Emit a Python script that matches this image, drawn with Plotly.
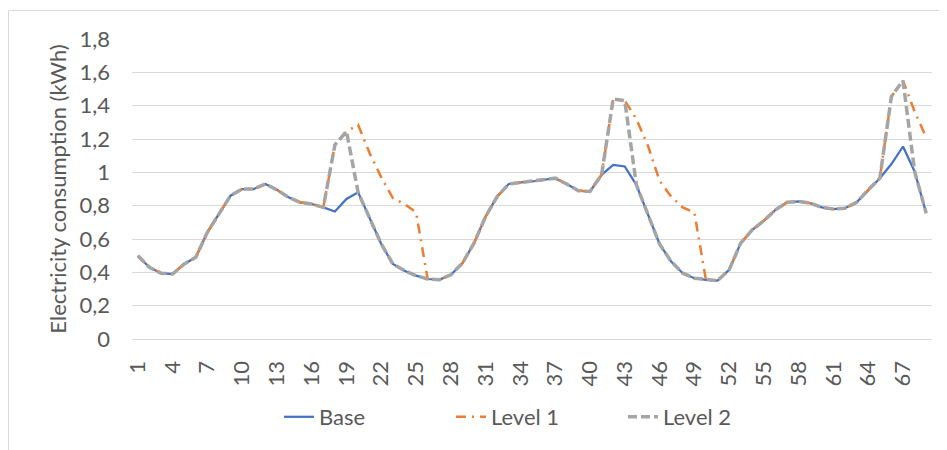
import plotly.graph_objects as go

hours = list(range(1, 70))

base = [0.50, 0.43, 0.395, 0.39, 0.45, 0.49, 0.64, 0.75, 0.86, 0.90,
        0.90, 0.93, 0.895, 0.85, 0.82, 0.81, 0.79, 0.765, 0.84, 0.88,
        0.73, 0.57, 0.45, 0.41, 0.38, 0.36, 0.355, 0.385, 0.455, 0.575,
        0.735, 0.855, 0.93, 0.94, 0.945, 0.955, 0.965, 0.93, 0.89, 0.885,
        0.985, 1.045, 1.035, 0.925, 0.75, 0.57, 0.465, 0.395, 0.365, 0.355,
        0.35, 0.415, 0.575, 0.655, 0.71, 0.775, 0.82, 0.825, 0.815, 0.79,
        0.78, 0.785, 0.82, 0.895, 0.965, 1.05, 1.155, 1.005, 0.755]

level1 = [0.50, 0.43, 0.395, 0.39, 0.45, 0.49, 0.64, 0.75, 0.86, 0.90,
          0.90, 0.93, 0.895, 0.85, 0.82, 0.81, 0.79, 1.165, 1.245, 1.285,
          1.115, 0.97, 0.845, 0.81, 0.76, 0.36, 0.355, 0.385, 0.455, 0.575,
          0.735, 0.855, 0.93, 0.94, 0.945, 0.955, 0.965, 0.93, 0.89, 0.885,
          0.985, 1.44, 1.43, 1.32, 1.16, 0.95, 0.855, 0.79, 0.76, 0.355,
          0.35, 0.415, 0.575, 0.655, 0.71, 0.775, 0.82, 0.825, 0.815, 0.79,
          0.78, 0.785, 0.82, 0.895, 0.965, 1.455, 1.55, 1.365, 1.21]

level2 = [0.50, 0.43, 0.395, 0.39, 0.45, 0.49, 0.64, 0.75, 0.86, 0.90,
          0.90, 0.93, 0.895, 0.85, 0.82, 0.81, 0.79, 1.165, 1.245, 0.88,
          0.73, 0.57, 0.45, 0.41, 0.38, 0.36, 0.355, 0.385, 0.455, 0.575,
          0.735, 0.855, 0.93, 0.94, 0.945, 0.955, 0.965, 0.93, 0.89, 0.885,
          0.985, 1.44, 1.43, 0.925, 0.75, 0.57, 0.465, 0.395, 0.365, 0.355,
          0.35, 0.415, 0.575, 0.655, 0.71, 0.775, 0.82, 0.825, 0.815, 0.79,
          0.78, 0.785, 0.82, 0.895, 0.965, 1.455, 1.55, 1.005, 0.755]

y_ticks = [0, 0.2, 0.4, 0.6, 0.8, 1.0, 1.2, 1.4, 1.6, 1.8]
y_tick_labels = ["0", "0,2", "0,4", "0,6", "0,8", "1", "1,2", "1,4", "1,6", "1,8"]

FONT = "Lato, Carlito, 'Open Sans', sans-serif"
TXT = "#595959"
FS = 22

fig = go.Figure()
fig.add_trace(go.Scatter(x=hours, y=base, name="Base", mode="lines",
                         line=dict(color="#4472C4", width=2.25)))
fig.add_trace(go.Scatter(x=hours, y=level1, name="Level 1", mode="lines",
                         line=dict(color="#ED7D31", width=2.5, dash="10px,6px,2px,6px")))
fig.add_trace(go.Scatter(x=hours, y=level2, name="Level 2", mode="lines",
                         line=dict(color="#A5A5A5", width=3.5, dash="9px,4px")))

# page body has an 8px margin, so the figure is drawn 8px right/down
W, H = 939, 442
L, R, T, B = 124, 15, 31, 111
PW, PH = W - L - R, H - T - B

fig.update_layout(
    width=W, height=H,
    margin=dict(l=L, r=R, t=T, b=B, pad=0),
    paper_bgcolor="white", plot_bgcolor="white",
    font=dict(family=FONT, color=TXT, size=FS),
    showlegend=True,
    legend=dict(orientation="h", x=(529 - L) / PW, xanchor="center",
                y=(T + PH - 409) / PH, yanchor="middle",
                font=dict(size=FS, color=TXT),
                entrywidth=127, entrywidthmode="pixels",
                bgcolor="rgba(0,0,0,0)"),
    xaxis=dict(range=[0.5, 69.5], tickmode="linear", tick0=1, dtick=3,
               tickangle=-90, showgrid=False, zeroline=False,
               showline=True, linecolor="#D9D9D9", linewidth=1.3,
               ticks="", ticklabelstandoff=12,
               tickfont=dict(size=FS, color=TXT, family=FONT)),
    yaxis=dict(range=[0, 1.8], tickmode="array", tickvals=y_ticks,
               ticktext=y_tick_labels, showgrid=True, gridcolor="#D9D9D9",
               gridwidth=1.3, zeroline=False, showline=False, ticks="",
               ticklabelstandoff=21,
               tickfont=dict(size=FS, color=TXT, family=FONT),
               title=dict(text="Electricity consumption (kWh)", standoff=6,
                          font=dict(size=FS, color=TXT, family=FONT))),
    shapes=[dict(type="rect", xref="paper", yref="paper",
                 x0=(0.5 - L) / PW, x1=(980 - L) / PW,
                 y0=(T + PH - 480) / PH, y1=(T + PH - 2.5) / PH,
                 line=dict(color="#D9D9D9", width=1), fillcolor="rgba(0,0,0,0)",
                 layer="below")],
)

fig.write_html("out.html")
